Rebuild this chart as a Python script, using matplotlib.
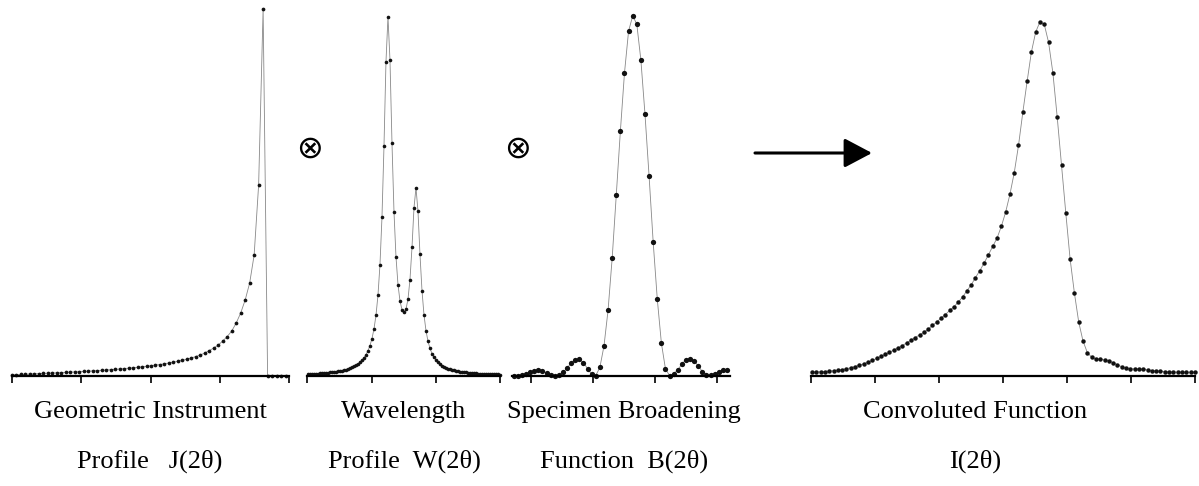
import numpy as np
import matplotlib
matplotlib.use('Agg')
from matplotlib import pyplot as plt
from matplotlib.patches import FancyArrowPatch

# intensities (arbitrary units, same scale for all panels)
geo_y = [1.2, 1.4, 1.6, 1.8, 2.0, 2.2, 2.4, 2.6, 2.8, 3.0,
         3.2, 3.4, 3.6, 3.9, 4.1, 4.3, 4.6, 4.8, 5.1, 5.4,
         5.7, 6.0, 6.3, 6.6, 7.0, 7.4, 7.8, 8.2, 8.7, 9.2,
         9.7, 10.3, 10.9, 11.5, 12.2, 13.0, 13.8, 14.7, 15.7, 16.8,
         18.0, 19.5, 21.0, 23.0, 25.5, 28.0, 31.0, 35.0, 39.5, 45.0,
         53.0, 63.0, 76.0, 93.0, 121.0, 191.0, 367.0,
         0.0, 0.5, 0.5, 0.5, 0.5]
geo_x = np.linspace(0, 3.95, len(geo_y))

wav_y = [2.0, 2.1, 2.2, 2.3, 2.4, 2.5, 2.7, 2.8, 3.0, 3.2,
         3.4, 3.6, 3.8, 4.1, 4.4, 4.7, 5.1, 5.5, 6.0, 6.5,
         7.2, 7.9, 8.7, 9.7, 10.8, 12.1, 13.8, 15.8, 18.2, 21.3,
         25.3, 30.5, 37.4, 47.0, 60.7, 80.8, 111.4, 158.9, 229.6, 314.3,
         359.1, 316.0, 233.1, 164.4, 119.2, 91.5, 75.0, 66.3, 63.6, 66.8,
         76.8, 96.5, 128.5, 168.2, 188.2, 164.8, 121.5, 85.5, 61.2, 45.3,
         34.8, 27.6, 22.5, 18.7, 15.8, 13.6, 11.8, 10.4, 9.2, 8.3,
         7.4, 6.7, 6.1, 5.6, 5.2, 4.8, 4.4, 4.1, 3.8, 3.6,
         3.4, 3.2, 3.0, 2.8, 2.6, 2.5, 2.4, 2.3, 2.1, 2.0,
         1.9, 1.9, 1.8, 1.7, 1.6, 1.6, 1.5]
wav_x = np.linspace(0.01, 3.0, len(wav_y))

spec_y = [0.5, 0.3, 0.8, 2.3, 4.1, 5.5, 5.9, 5.0, 3.2, 1.2,
          0.1, 0.7, 3.6, 8.1, 13.0, 16.4, 16.6, 13.4, 7.3, 1.6,
          0.4, 8.7, 30, 66, 118, 181, 245, 303, 345, 360,
          352, 316, 262, 200, 134, 77, 33, 7, 0.5, 2.5,
          6, 12, 16.5, 17.5, 15, 10, 4.5, 1.5, 1, 2.5,
          4.5, 6, 6]
spec_x = np.linspace(-0.277, 3.161, len(spec_y))

conv_y = [3.7, 4.0, 4.2, 4.5, 4.9, 5.2, 5.7, 6.4, 7.3, 8.3,
          9.5, 10.8, 12.2, 13.8, 15.6, 17.6, 19.6, 21.6, 23.8, 25.9,
          28.1, 30.4, 33.2, 35.6, 38.5, 41.1, 43.7, 46.7, 50.6, 54.0,
          58.0, 61.4, 65.6, 69.3, 73.9, 79.0, 85.2, 91.1, 98.5, 105.3,
          112.9, 121.2, 129.5, 137.8, 149.5, 163.7, 181.6, 203, 230.5, 263.5,
          294.5, 324, 344, 354.3, 351.5, 333.5, 303, 259, 211, 163,
          117, 83, 54, 35, 23.5, 18.8, 17.1, 16.7, 16.1, 15.1,
          13.4, 11.2, 9.3, 7.7, 7.0, 7.0, 7.0, 6.7, 6.0, 5.3,
          5.0, 4.7, 4.3, 4.0, 4.0, 3.7, 3.7, 3.7, 3.7, 3.7]
conv_x = np.linspace(0.017, 5.997, len(conv_y))

labels_top = ['Geometric Instrument', 'Wavelength', 'Specimen Broadening',
              'Convoluted Function']
labels_bot = ['Profile   J(2\u03b8)', 'Profile  W(2\u03b8)', 'Function  B(2\u03b8)',
              'I(2\u03b8)']
label_x = [150, 404, 624, 975]

W, H = 1199, 486
fig = plt.figure(figsize=(W / 100, H / 100), dpi=100)

def panel(x0, x1, xlim, ticks, x, y, ms, lw=0.6):
    ax = fig.add_axes([x0 / W, (H - 376) / H, (x1 - x0) / W, 370 / H])
    ax.plot(x, y, '-', color='#888888', lw=lw, zorder=1, clip_on=False)
    ax.plot(x, y, 'o', color='#111111', ms=ms, mew=0, zorder=2, clip_on=False)
    ax.set_xlim(*xlim)
    ax.set_ylim(0, 370)
    for s in ['top', 'right', 'left']:
        ax.spines[s].set_visible(False)
    ax.spines['bottom'].set_linewidth(1.6)
    ax.set_yticks([])
    ax.set_xticks(ticks)
    ax.set_xticklabels([])
    ax.tick_params(axis='x', direction='out', length=5, width=1.2)
    return ax

panel(12, 289, (0, 4), [0, 1, 2, 3, 4], geo_x, geo_y, 2.7)
panel(307, 500, (-0.005, 3.0), [0, 1, 2, 3], wav_x, wav_y, 2.6)
panel(512, 730, (-0.306, 3.21), [0, 1, 2, 3], spec_x, spec_y, 3.8)
panel(811, 1195, (0, 6), [0, 1, 2, 3, 4, 5, 6], conv_x, conv_y, 3.2)

for lx, t1, t2 in zip(label_x, labels_top, labels_bot):
    fig.text(lx / W, (H - 412) / H, t1, ha='center', va='center',
             family='Liberation Serif', fontsize=19)
    fig.text(lx / W, (H - 461) / H, t2, ha='center', va='center',
             family='Liberation Serif', fontsize=19)

# convolution signs
for cx in [310, 518]:
    fig.text(cx / W, (H - 149) / H, '\u2297', ha='center', va='center',
             family=['DejaVu Sans'], fontsize=23)

arr = FancyArrowPatch((7.55, (H - 153) / 100), (8.72, (H - 153) / 100),
                      arrowstyle='-|>,head_length=0.85,head_width=0.45',
                      mutation_scale=20, lw=2.2, color='black',
                      shrinkA=0, shrinkB=0, transform=fig.dpi_scale_trans)
fig.add_artist(arr)

plt.savefig('out.png', dpi=100)
